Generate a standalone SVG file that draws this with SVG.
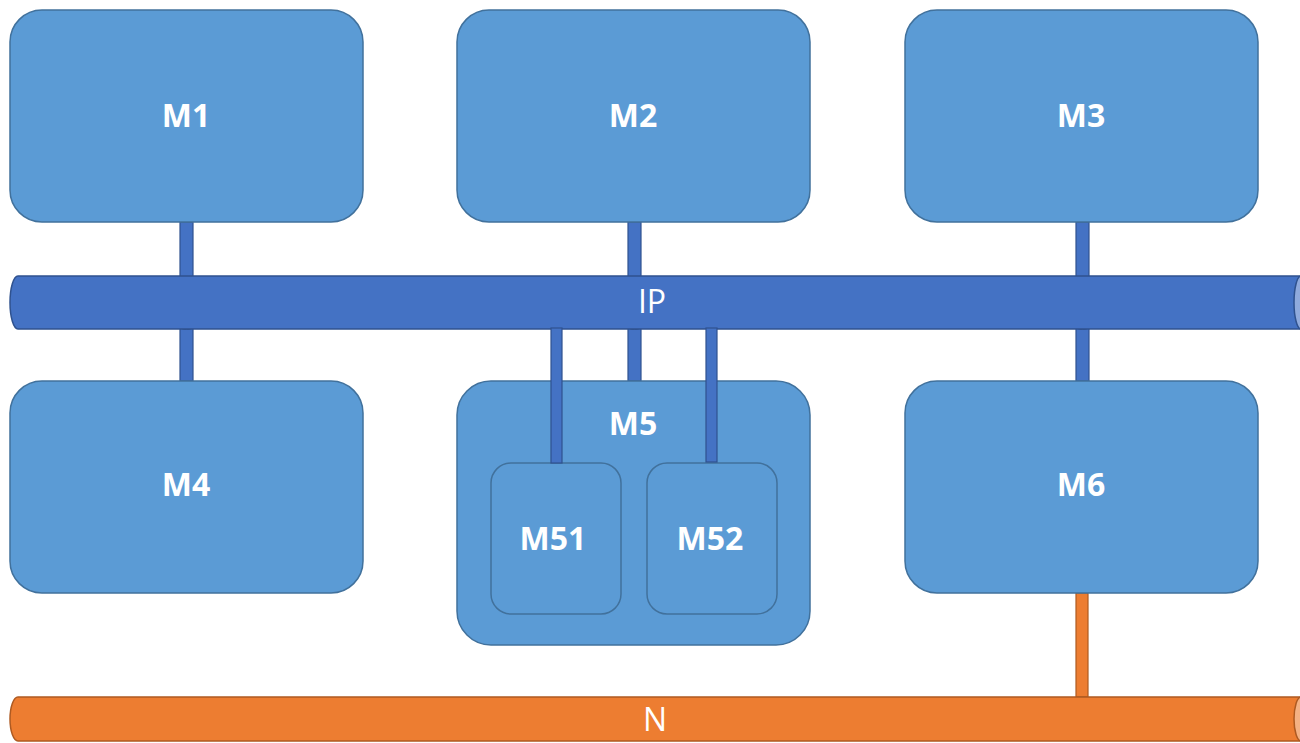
<svg xmlns="http://www.w3.org/2000/svg" width="1300" height="743" viewBox="0 0 1300 743">
<style>
.node{fill:#5B9BD5;stroke:#41719C;stroke-width:1.5}
.sub{fill:#5B9BD5;stroke:#41719C;stroke-width:1.5}
.lbl{font-family:"Open Sans","Liberation Sans",sans-serif;font-weight:bold;font-size:32px;fill:#fff;text-anchor:middle;dominant-baseline:central}
.bus{font-family:"Open Sans","Liberation Sans",sans-serif;font-size:32px;fill:#fff;text-anchor:middle;dominant-baseline:central}
.bc{fill:#4472C4;stroke:#2F528F;stroke-width:1.2}
.bcap{fill:#4472C4;stroke:#2F528F;stroke-width:1}
.oc{fill:#ED7D31;stroke:#AE5A21;stroke-width:1.2}
</style>
<rect width="1300" height="743" fill="#fff"/>
<g id="connectors">
  <rect class="bc" x="180" y="222" width="13" height="55"/>
  <rect class="bc" x="628" y="222" width="13" height="55"/>
  <rect class="bc" x="1076" y="222" width="13" height="55"/>
  <rect class="bc" x="180" y="326" width="13" height="55"/>
  <ellipse class="bcap" cx="186.5" cy="327" rx="6.5" ry="2.5"/>
  <rect class="bc" x="628" y="326" width="13" height="55"/>
  <ellipse class="bcap" cx="634.5" cy="327" rx="6.5" ry="2.5"/>
  <rect class="bc" x="1076" y="326" width="13" height="55"/>
  <ellipse class="bcap" cx="1082.5" cy="327" rx="6.5" ry="2.5"/>
  <rect class="oc" x="1076" y="593" width="12" height="104"/>
</g>
<g id="IP">
  <path d="M18,276 H1300 V329 H18 A8,26.5 0 0 1 18,276 Z" fill="#4472C4" stroke="#2F528F" stroke-width="1.5"/>
  <ellipse cx="1301" cy="302.5" rx="7" ry="26.5" fill="#8FAADC" stroke="#2F528F" stroke-width="1.5"/>
  <text class="bus" x="652" y="300">IP</text>
</g>
<g id="N">
  <path d="M18,697 H1300 V741 H18 A8,22 0 0 1 18,697 Z" fill="#ED7D31" stroke="#AE5A21" stroke-width="1.5"/>
  <ellipse cx="1301" cy="719" rx="7" ry="22" fill="#F4B183" stroke="#AE5A21" stroke-width="1.5"/>
  <text class="bus" x="655" y="718">N</text>
</g>
<g id="M1">
  <rect class="node" x="10" y="10" width="353" height="212" rx="32"/>
  <text class="lbl" x="186" y="114">M1</text>
</g>
<g id="M2">
  <rect class="node" x="457" y="10" width="353" height="212" rx="32"/>
  <text class="lbl" x="633" y="114">M2</text>
</g>
<g id="M3">
  <rect class="node" x="905" y="10" width="353" height="212" rx="32"/>
  <text class="lbl" x="1081" y="114">M3</text>
</g>
<g id="M4">
  <rect class="node" x="10" y="381" width="353" height="212" rx="32"/>
  <text class="lbl" x="186" y="483">M4</text>
</g>
<g id="M5">
  <rect class="node" x="457" y="381" width="353" height="264" rx="34"/>
  <text class="lbl" x="633" y="422">M5</text>
</g>
<g id="M51">
  <rect class="sub" x="491" y="463" width="130" height="151" rx="20"/>
  <text class="lbl" x="553" y="537">M51</text>
</g>
<g id="M52">
  <rect class="sub" x="647" y="463" width="130" height="151" rx="20"/>
  <text class="lbl" x="710" y="537">M52</text>
</g>
<g id="M6">
  <rect class="node" x="905" y="381" width="353" height="212" rx="32"/>
  <text class="lbl" x="1081" y="483">M6</text>
</g>
<g id="inner-connectors">
  <rect class="bc" x="551" y="328" width="11" height="135"/>
  <rect class="bc" x="706" y="328" width="11" height="134"/>
</g>
</svg>
